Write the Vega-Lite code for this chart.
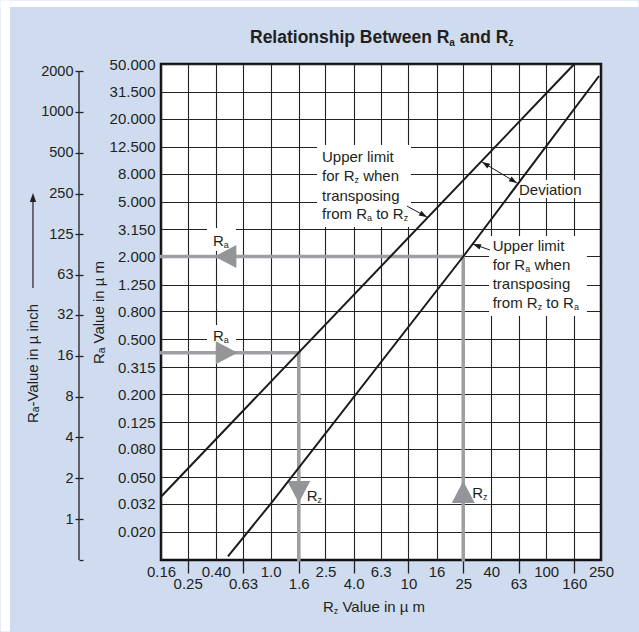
{
  "$schema": "https://vega.github.io/schema/vega-lite/v6.json",
  "width": 440,
  "height": 496,
  "autosize": {"type": "none"},
  "padding": {"left": 161, "top": 64, "right": 38, "bottom": 72},
  "background": "#cfdcf0",
  "config": {
    "font": "Liberation Sans",
    "view": {"fill": "#ffffff", "stroke": "#111111", "strokeWidth": 2.5},
    "axis": {
      "labelFont": "Liberation Sans", "titleFont": "Liberation Sans",
      "labelFontSize": 15, "titleFontSize": 15, "titleFontWeight": "normal",
      "labelColor": "#231f20", "titleColor": "#231f20",
      "gridColor": "#222222", "gridOpacity": 1, "gridWidth": 1.1,
      "tickColor": "#231f20", "tickWidth": 1.3,
      "domainColor": "#231f20", "domainWidth": 1.3,
      "labelFlush": false, "labelOverlap": false
    }
  },
  "datasets": {
    "frame": [
      {"x1": 0.010943, "x2": 467.8, "y1": 129.7, "y2": 144.6},
      {"x1": 0.010943, "x2": 0.012827, "y1": 0.0037815, "y2": 144.6}
    ],
    "lines": [
      {"line": "A", "rz": 0.16, "ra": 0.036},
      {"line": "A", "rz": 160, "ra": 50},
      {"line": "B", "rz": 0.49, "ra": 0.0133},
      {"line": "B", "rz": 1.0, "ra": 0.032},
      {"line": "B", "rz": 25, "ra": 2.0},
      {"line": "B", "rz": 242, "ra": 40.9}
    ],
    "grayRules": [
      {"x1": 0.16, "x2": 25, "y1": 2, "y2": 2},
      {"x1": 25, "x2": 25, "y1": 0.0125, "y2": 2},
      {"x1": 0.16, "x2": 1.6, "y1": 0.4, "y2": 0.4},
      {"x1": 1.6, "x2": 1.6, "y1": 0.0125, "y2": 0.4}
    ],
    "tri": [
      {"dir": "left", "rz": 0.47, "ra": 2.0},
      {"dir": "right", "rz": 0.48, "ra": 0.4},
      {"dir": "down", "rz": 1.6, "ra": 0.039},
      {"dir": "up", "rz": 25, "ra": 0.039}
    ],
    "boxes": [
      {"x1": 2.17, "x2": 10.44, "y1": 3.274, "y2": 12.9},
      {"x1": 38.5, "x2": 197.8, "y1": 0.739, "y2": 2.82},
      {"x1": 61.4, "x2": 191.3, "y1": 5.32, "y2": 7.19},
      {"x1": 0.3453, "x2": 0.5605, "y1": 2.193, "y2": 3.22},
      {"x1": 0.3453, "x2": 0.5605, "y1": 0.4403, "y2": 0.636}
    ],
    "arrows": [
      {"x1": 9.76, "y1": 4.65, "x2": 13.64, "y2": 3.87},
      {"x1": 39.1, "y1": 2.23, "x2": 29.4, "y2": 2.46},
      {"x1": 34.2, "y1": 9.71, "x2": 61.4, "y2": 6.83}
    ],
    "heads": [
      {"head": "a1", "x": 13.64, "y": 3.87},
      {"head": "a2", "x": 29.4, "y": 2.46},
      {"head": "d1", "x": 34.2, "y": 9.71},
      {"head": "d2", "x": 61.4, "y": 6.83}
    ],
    "labels": [
      {"t": "Upper limit", "x": 2.359, "y": 10.52},
      {"t": "for R", "x": 2.359, "y": 7.685},
      {"t": "when", "x": 4.695, "y": 7.685},
      {"t": "transposing", "x": 2.359, "y": 5.536},
      {"t": "from R", "x": 2.359, "y": 4.058},
      {"t": "to R", "x": 5.834, "y": 4.058},
      {"t": "Upper limit", "x": 40.9, "y": 2.367},
      {"t": "for R", "x": 40.9, "y": 1.723},
      {"t": "when", "x": 82.1, "y": 1.723},
      {"t": "transposing", "x": 40.9, "y": 1.254},
      {"t": "from R", "x": 40.9, "y": 0.913},
      {"t": "to R", "x": 100.3, "y": 0.913},
      {"t": "Deviation", "x": 63.5, "y": 6.08},
      {"t": "R", "x": 0.382, "y": 2.596},
      {"t": "R", "x": 0.382, "y": 0.53},
      {"t": "R", "x": 1.826, "y": 0.0365},
      {"t": "R", "x": 29.09, "y": 0.03858},
      {"t": "R", "x": 2.399, "y": 0.005696},
      {"t": "Value in µ m", "x": 3.322, "y": 0.005696}
    ],
    "subs": [
      {"t": "z", "x": 4.061, "y": 7.685},
      {"t": "a", "x": 5.005, "y": 4.058},
      {"t": "z", "x": 9.241, "y": 4.058},
      {"t": "a", "x": 70.42, "y": 1.723},
      {"t": "z", "x": 86.8, "y": 0.913},
      {"t": "a", "x": 158.9, "y": 0.913},
      {"t": "a", "x": 0.457, "y": 2.596},
      {"t": "a", "x": 0.457, "y": 0.53},
      {"t": "z", "x": 2.188, "y": 0.0365},
      {"t": "z", "x": 34.85, "y": 0.03858},
      {"t": "z", "x": 2.873, "y": 0.005696}
    ],
    "titleText": [
      {"t": "Relationship Between R", "x": 0.7081, "y": 76.85},
      {"t": "and R", "x": 23.6, "y": 76.85}
    ],
    "titleSubs": [
      {"t": "a", "x": 19.8, "y": 76.85},
      {"t": "z", "x": 53.19, "y": 76.85}
    ],
    "outerLine": [
      {"x": 0.040638, "y1": 0.0125, "y2": 44.47}
    ],
    "outerArrow": [
      {"x": 0.01883, "y1": 1.181, "y2": 5.499, "tip": 5.784}
    ]
  },
  "layer": [
    {
      "data": {"name": "frame"},
      "mark": {"type": "rect", "fill": "#ffffff"},
      "encoding": {
        "x": {"field": "x1", "type": "quantitative", "scale": {"type": "log", "domain": [0.16, 250], "nice": false}, "axis": null},
        "x2": {"field": "x2"},
        "y": {"field": "y1", "type": "quantitative", "scale": {"type": "log", "domain": [0.0125, 50], "nice": false}, "axis": null},
        "y2": {"field": "y2"}
      }
    },
    {
      "data": {"name": "boxes"},
      "mark": {"type": "rect", "fill": "#ffffff"},
      "encoding": {
        "x": {"field": "x1", "type": "quantitative", "scale": {"type": "log", "domain": [0.16, 250], "nice": false},
          "axis": {"orient": "bottom", "values": [0.16, 0.25, 0.4, 0.63, 1, 1.6, 2.5, 4, 6.3, 10, 16, 25, 40, 63, 100, 160, 250], "grid": true, "ticks": false, "tickSize": 0, "domain": false, "labelPadding": 4, "labelExpr": "indexof([0.25, 0.63, 1.6, 4, 10, 25, 63, 160], datum.value) >= 0 ? '' : format(datum.value, '.2r')", "title": null}},
        "x2": {"field": "x2"},
        "y": {"field": "y1", "type": "quantitative", "scale": {"type": "log", "domain": [0.0125, 50], "nice": false},
          "axis": {"orient": "left", "values": [0.02, 0.032, 0.05, 0.08, 0.125, 0.2, 0.315, 0.5, 0.8, 1.25, 2, 3.15, 5, 8, 12.5, 20, 31.5, 50], "grid": true, "ticks": false, "tickSize": 0, "domain": false, "labelPadding": 6, "format": ".3f", "title": "Rₐ Value in µ m", "titlePadding": 3}},
        "y2": {"field": "y2"}
      }
    },
    {
      "data": {"name": "grayRules"},
      "mark": {"type": "rule", "color": "#9d9fa2", "strokeWidth": 3.5, "strokeCap": "square"},
      "encoding": {
        "x": {"field": "x1", "type": "quantitative", "scale": {"type": "log", "domain": [0.16, 250], "nice": false},
          "axis": {"orient": "bottom", "values": [0.25, 0.63, 1.6, 4, 10, 25, 63, 160], "grid": false, "ticks": true, "tickSize": 13, "domain": false, "labelPadding": 3, "format": ".2r", "title": null}},
        "x2": {"field": "x2"},
        "y": {"field": "y1", "type": "quantitative", "scale": {"type": "log", "domain": [0.0125, 50], "nice": false},
          "axis": {"orient": "left", "offset": 82, "values": [0.024757, 0.049028, 0.097099, 0.1923, 0.38084, 0.75424, 1.47125, 2.8905, 5.7246, 11.3375, 22.454, 44.47], "grid": false, "domain": false, "ticks": true, "tickSize": 4, "labelPadding": 2, "labelFontSize": 14.5, "labelExpr": "format(round(pow(datum.value / 0.0125, 1.014312) / 2), 'd')", "title": "Rₐ-Value in µ inch", "titlePadding": 0, "titleY": 299}},
        "y2": {"field": "y2"}
      }
    },
    {
      "data": {"name": "tri"},
      "mark": {"type": "point", "filled": true, "color": "#939598", "opacity": 1, "size": 529, "strokeWidth": 0},
      "encoding": {
        "x": {"field": "rz", "type": "quantitative", "scale": {"type": "log", "domain": [0.16, 250], "nice": false}, "axis": null},
        "y": {"field": "ra", "type": "quantitative", "scale": {"type": "log", "domain": [0.0125, 50], "nice": false},
          "axis": {"orient": "left", "offset": 78, "values": [0.0125, 0.024757, 0.049028, 0.097099, 0.1923, 0.38084, 0.75424, 1.47125, 2.8905, 5.7246, 11.3375, 22.454, 44.47], "grid": false, "domain": false, "ticks": true, "tickSize": 4, "labels": false, "title": null}},
        "shape": {"field": "dir", "type": "nominal", "legend": null,
          "scale": {"domain": ["left", "right", "down", "up"], "range": ["M-0.95,0L0.95,-1L0.95,1Z", "M0.95,0L-0.95,-1L-0.95,1Z", "M0,0.95L1,-0.95L-1,-0.95Z", "M0,-0.95L1,0.95L-1,0.95Z"]}}
      }
    },
    {
      "data": {"name": "lines"},
      "mark": {"type": "line", "color": "#1a1a1a", "strokeWidth": 2},
      "encoding": {
        "x": {"field": "rz", "type": "quantitative", "scale": {"type": "log", "domain": [0.16, 250], "nice": false}, "axis": null},
        "y": {"field": "ra", "type": "quantitative", "scale": {"type": "log", "domain": [0.0125, 50], "nice": false}, "axis": null},
        "detail": {"field": "line", "type": "nominal"}
      }
    },
    {
      "data": {"name": "arrows"},
      "mark": {"type": "rule", "color": "#1a1a1a", "strokeWidth": 1},
      "encoding": {
        "x": {"field": "x1", "type": "quantitative", "scale": {"type": "log", "domain": [0.16, 250], "nice": false}, "axis": null},
        "x2": {"field": "x2"},
        "y": {"field": "y1", "type": "quantitative", "scale": {"type": "log", "domain": [0.0125, 50], "nice": false}, "axis": null},
        "y2": {"field": "y2"}
      }
    },
    {
      "data": {"name": "heads"},
      "transform": [{"filter": {"field": "head", "equal": "a1"}}],
      "mark": {"type": "point", "shape": "M0,0L0.7,2L-0.7,2Z", "size": 64, "filled": true, "color": "#1a1a1a", "opacity": 1, "strokeWidth": 0, "angle": 119},
      "encoding": {
        "x": {"field": "x", "type": "quantitative", "scale": {"type": "log", "domain": [0.16, 250], "nice": false}, "axis": null},
        "y": {"field": "y", "type": "quantitative", "scale": {"type": "log", "domain": [0.0125, 50], "nice": false}, "axis": null}
      }
    },
    {
      "data": {"name": "heads"},
      "transform": [{"filter": {"field": "head", "equal": "a2"}}],
      "mark": {"type": "point", "shape": "M0,0L0.7,2L-0.7,2Z", "size": 64, "filled": true, "color": "#1a1a1a", "opacity": 1, "strokeWidth": 0, "angle": 290},
      "encoding": {
        "x": {"field": "x", "type": "quantitative", "scale": {"type": "log", "domain": [0.16, 250], "nice": false}, "axis": null},
        "y": {"field": "y", "type": "quantitative", "scale": {"type": "log", "domain": [0.0125, 50], "nice": false}, "axis": null}
      }
    },
    {
      "data": {"name": "heads"},
      "transform": [{"filter": {"field": "head", "equal": "d1"}}],
      "mark": {"type": "point", "shape": "M0,0L0.7,2L-0.7,2Z", "size": 64, "filled": true, "color": "#1a1a1a", "opacity": 1, "strokeWidth": 0, "angle": 301},
      "encoding": {
        "x": {"field": "x", "type": "quantitative", "scale": {"type": "log", "domain": [0.16, 250], "nice": false}, "axis": null},
        "y": {"field": "y", "type": "quantitative", "scale": {"type": "log", "domain": [0.0125, 50], "nice": false}, "axis": null}
      }
    },
    {
      "data": {"name": "heads"},
      "transform": [{"filter": {"field": "head", "equal": "d2"}}],
      "mark": {"type": "point", "shape": "M0,0L0.7,2L-0.7,2Z", "size": 64, "filled": true, "color": "#1a1a1a", "opacity": 1, "strokeWidth": 0, "angle": 121},
      "encoding": {
        "x": {"field": "x", "type": "quantitative", "scale": {"type": "log", "domain": [0.16, 250], "nice": false}, "axis": null},
        "y": {"field": "y", "type": "quantitative", "scale": {"type": "log", "domain": [0.0125, 50], "nice": false}, "axis": null}
      }
    },
    {
      "data": {"name": "outerLine"},
      "mark": {"type": "rule", "color": "#231f20", "strokeWidth": 1.3},
      "encoding": {
        "x": {"field": "x", "type": "quantitative", "scale": {"type": "log", "domain": [0.16, 250], "nice": false}, "axis": null},
        "y": {"field": "y1", "type": "quantitative", "scale": {"type": "log", "domain": [0.0125, 50], "nice": false}, "axis": null},
        "y2": {"field": "y2"}
      }
    },
    {
      "data": {"name": "outerArrow"},
      "mark": {"type": "rule", "color": "#231f20", "strokeWidth": 1.2},
      "encoding": {
        "x": {"field": "x", "type": "quantitative", "scale": {"type": "log", "domain": [0.16, 250], "nice": false}, "axis": null},
        "y": {"field": "y1", "type": "quantitative", "scale": {"type": "log", "domain": [0.0125, 50], "nice": false}, "axis": null},
        "y2": {"field": "y2"}
      }
    },
    {
      "data": {"name": "outerArrow"},
      "mark": {"type": "point", "shape": "M0,0L0.7,2L-0.7,2Z", "size": 81, "filled": true, "color": "#231f20", "opacity": 1, "strokeWidth": 0},
      "encoding": {
        "x": {"field": "x", "type": "quantitative", "scale": {"type": "log", "domain": [0.16, 250], "nice": false}, "axis": null},
        "y": {"field": "tip", "type": "quantitative", "scale": {"type": "log", "domain": [0.0125, 50], "nice": false}, "axis": null}
      }
    },
    {
      "data": {"name": "labels"},
      "mark": {"type": "text", "align": "left", "baseline": "middle", "fontSize": 15, "font": "Liberation Sans", "color": "#231f20"},
      "encoding": {
        "x": {"field": "x", "type": "quantitative", "scale": {"type": "log", "domain": [0.16, 250], "nice": false}, "axis": null},
        "y": {"field": "y", "type": "quantitative", "scale": {"type": "log", "domain": [0.0125, 50], "nice": false}, "axis": null},
        "text": {"field": "t"}
      }
    },
    {
      "data": {"name": "subs"},
      "mark": {"type": "text", "align": "left", "baseline": "middle", "fontSize": 9, "dy": 4, "font": "Liberation Sans", "color": "#231f20"},
      "encoding": {
        "x": {"field": "x", "type": "quantitative", "scale": {"type": "log", "domain": [0.16, 250], "nice": false}, "axis": null},
        "y": {"field": "y", "type": "quantitative", "scale": {"type": "log", "domain": [0.0125, 50], "nice": false}, "axis": null},
        "text": {"field": "t"}
      }
    },
    {
      "data": {"name": "titleText"},
      "mark": {"type": "text", "align": "left", "baseline": "middle", "fontSize": 17.5, "fontWeight": "bold", "font": "Liberation Sans", "color": "#231f20"},
      "encoding": {
        "x": {"field": "x", "type": "quantitative", "scale": {"type": "log", "domain": [0.16, 250], "nice": false}, "axis": null},
        "y": {"field": "y", "type": "quantitative", "scale": {"type": "log", "domain": [0.0125, 50], "nice": false}, "axis": null},
        "text": {"field": "t"}
      }
    },
    {
      "data": {"name": "titleSubs"},
      "mark": {"type": "text", "align": "left", "baseline": "middle", "fontSize": 10, "fontWeight": "bold", "dy": 5, "font": "Liberation Sans", "color": "#231f20"},
      "encoding": {
        "x": {"field": "x", "type": "quantitative", "scale": {"type": "log", "domain": [0.16, 250], "nice": false}, "axis": null},
        "y": {"field": "y", "type": "quantitative", "scale": {"type": "log", "domain": [0.0125, 50], "nice": false}, "axis": null},
        "text": {"field": "t"}
      }
    }
  ],
  "resolve": {"axis": {"x": "independent", "y": "independent"}}
}
